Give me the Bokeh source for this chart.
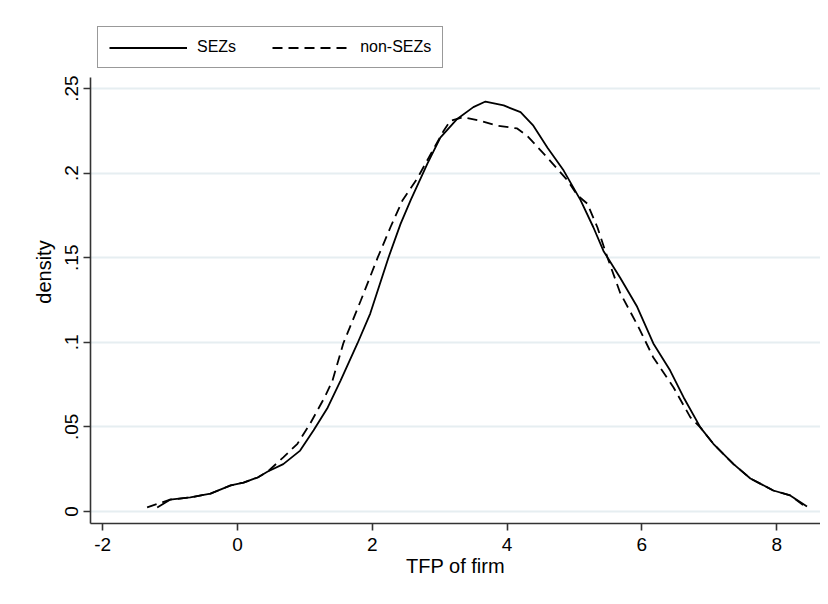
from bokeh.plotting import figure
from bokeh.models import Range1d, FixedTicker, Legend, LegendItem
from bokeh.embed import file_html
from bokeh.resources import INLINE

# SEZs kernel density
sez_x = [-1.19, -1.0, -0.7, -0.4, -0.1, 0.09, 0.3, 0.45, 0.68, 0.93, 1.13, 1.34, 1.53,
         1.78, 1.97, 2.24, 2.42, 2.57, 2.82, 3.01, 3.26, 3.5, 3.68, 3.95, 4.2, 4.39,
         4.6, 4.84, 5.09, 5.28, 5.43, 5.68, 5.93, 6.17, 6.42, 6.62, 6.87, 7.06, 7.36,
         7.61, 7.95, 8.2, 8.45]
sez_y = [0.0024, 0.007, 0.0083, 0.0106, 0.0154, 0.0171, 0.0201, 0.0236, 0.028, 0.036,
         0.048, 0.0615, 0.0774, 0.0993, 0.117, 0.150, 0.170, 0.184, 0.2057, 0.221,
         0.232, 0.239, 0.2423, 0.240, 0.236, 0.228, 0.215, 0.2015, 0.184, 0.168,
         0.154, 0.138, 0.121, 0.0993, 0.0833, 0.0674, 0.0496, 0.040, 0.028, 0.0195,
         0.0124, 0.0095, 0.003]

# non-SEZs kernel density
non_x = [-1.34, -1.0, -0.7, -0.4, -0.1, 0.09, 0.3, 0.45, 0.68, 0.89, 1.08, 1.30, 1.41,
         1.57, 1.83, 2.08, 2.27, 2.45, 2.67, 2.85, 3.06, 3.16, 3.35, 3.6, 3.86, 4.15,
         4.30, 4.6, 4.9, 5.04, 5.19, 5.34, 5.49, 5.68, 5.95, 6.17, 6.47, 6.72, 6.87,
         7.06, 7.36, 7.61, 7.95, 8.2, 8.40]
non_y = [0.0024, 0.007, 0.0083, 0.0106, 0.0154, 0.0171, 0.0201, 0.0236, 0.032, 0.040,
         0.052, 0.068, 0.0774, 0.0993, 0.1247, 0.150, 0.168, 0.184, 0.197, 0.210,
         0.225, 0.231, 0.233, 0.231, 0.228, 0.2264, 0.222, 0.209, 0.1956, 0.187,
         0.182, 0.168, 0.150, 0.129, 0.109, 0.091, 0.0733, 0.0556, 0.0496, 0.040,
         0.028, 0.0195, 0.0124, 0.0095, 0.0035]

x_ticks = [-2, 0, 2, 4, 6, 8]
x_tick_labels = ["-2", "0", "2", "4", "6", "8"]
y_ticks = [0, 0.05, 0.1, 0.15, 0.2, 0.25]
y_tick_labels = ["0", ".05", ".1", ".15", ".2", ".25"]
series_names = ["SEZs", "non-SEZs"]

FONT = "Liberation Sans"

Y0 = -0.0071
Y_AXIS_TOP = 0.2565
p = figure(width=820, height=596, output_backend="svg", toolbar_location=None,
           x_range=Range1d(-2.18, 8.65), y_range=Range1d(Y0, 0.2902),
           min_border_left=90, min_border_right=0, min_border_top=20,
           min_border_bottom=73)
p.background_fill_color = "white"
p.border_fill_color = "white"
p.outline_line_color = None

r1 = p.line(sez_x, sez_y, line_color="black", line_width=1.8)
r2 = p.line(non_x, non_y, line_color="black", line_width=1.8, line_dash="10 6")

# axes
for ax in (p.xaxis[0], p.yaxis[0]):
    ax.axis_line_color = "#333333"
    ax.axis_line_width = 1.6
    ax.major_tick_line_color = "#333333"
    ax.major_tick_line_width = 1.6
    ax.major_tick_out = 7
    ax.major_tick_in = 0
    ax.minor_tick_line_color = None
    ax.major_label_text_font = FONT
    ax.major_label_text_font_size = "19px"
    ax.major_label_text_color = "black"
    ax.axis_label_text_font = FONT
    ax.axis_label_text_font_size = "20px"
    ax.axis_label_text_font_style = "normal"
    ax.axis_label_text_color = "black"

p.xaxis[0].ticker = FixedTicker(ticks=x_ticks)
p.xaxis[0].major_label_overrides = {t: l for t, l in zip(x_ticks, x_tick_labels)}
p.xaxis[0].axis_label = "TFP of firm"
p.xaxis[0].major_label_standoff = 7
p.xaxis[0].axis_label_standoff = 1

p.yaxis[0].ticker = FixedTicker(ticks=y_ticks)
p.yaxis[0].bounds = (Y0, Y_AXIS_TOP)
p.yaxis[0].major_label_overrides = {t: l for t, l in zip(y_ticks, y_tick_labels)}
p.yaxis[0].major_label_orientation = "vertical"
p.yaxis[0].axis_label = "density"
p.yaxis[0].major_label_standoff = 5
p.yaxis[0].axis_label_standoff = 8

p.xgrid.grid_line_color = None
p.ygrid.grid_line_color = "#e6eef1"
p.ygrid.grid_line_width = 2

legend = Legend(items=[LegendItem(label=series_names[0], renderers=[r1]),
                       LegendItem(label=series_names[1], renderers=[r2])],
                location=(7, 455), orientation="horizontal",
                border_line_color="#333333", border_line_width=1.2,
                background_fill_color="white", background_fill_alpha=1.0,
                glyph_width=78, glyph_height=17, label_standoff=10, spacing=36,
                padding=11, margin=0,
                label_text_font=FONT, label_text_font_size="16px",
                label_text_color="black")
p.add_layout(legend, "center")

open("out.html", "w").write(file_html(p, INLINE))
